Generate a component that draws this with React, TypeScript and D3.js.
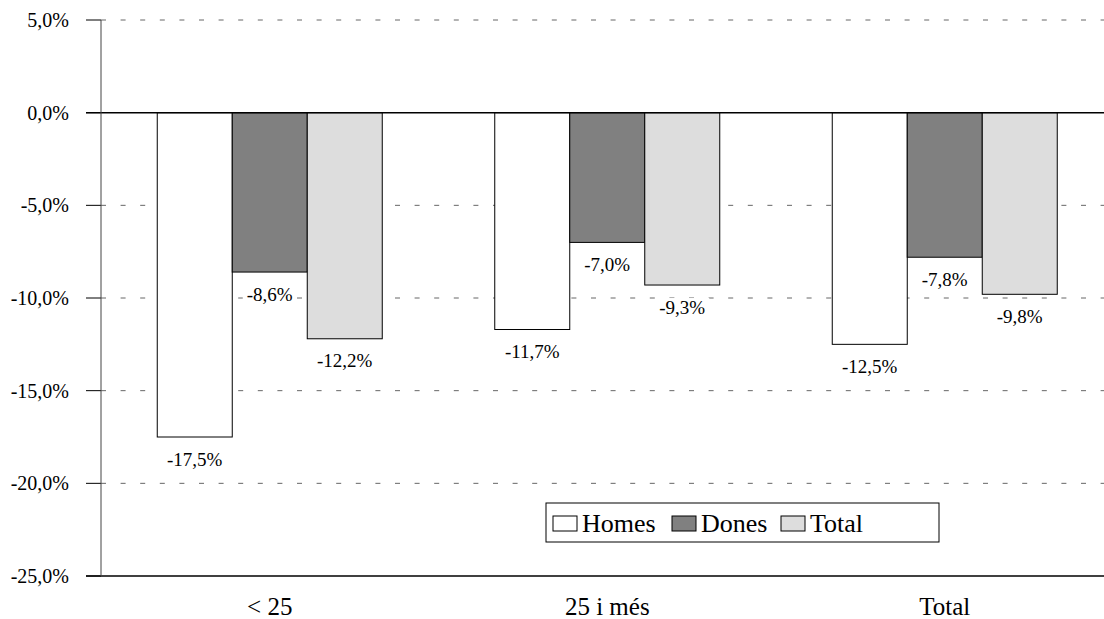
import React from "react";
import * as d3 from "d3";

const categories = ["< 25", "25 i més", "Total"];
const seriesNames = ["Homes", "Dones", "Total"];
const homes = [-17.5, -11.7, -12.5];
const dones = [-8.6, -7.0, -7.8];
const total = [-12.2, -9.3, -9.8];
const yTicks = [5, 0, -5, -10, -15, -20, -25];
const colors = ["#ffffff", "#808080", "#dddddd"];

const fmt = (v: number) => v.toFixed(1).replace(".", ",") + "%";
const FONT = "Liberation Serif, Times New Roman, serif";

export default function App() {
  const W = 1104, H = 619;
  const left = 101, right = 1113.5, top = 20, bottom = 576;
  const y = d3.scaleLinear().domain([5, -25]).range([top, bottom]);
  const x0 = d3.scaleBand().domain(categories).range([left, right]).paddingInner(1 / 3).paddingOuter(1 / 6);
  const x1 = d3.scaleBand().domain(seriesNames).range([0, x0.bandwidth()]);
  const series = [homes, dones, total];
  const ts = (size: number) => ({ fontFamily: FONT, fontSize: size + "px" });

  return (
    <svg width={W} height={H} style={{ position: "absolute", left: 0, top: 0, fontFamily: FONT }}>
      <rect x={0} y={0} width={W} height={H} fill="#fff" />
      {yTicks.map((t) => (
        <g key={t}>
          {t !== 0 && t !== -25 && (
            <line x1={left} x2={W} y1={y(t)} y2={y(t)} stroke="#666" strokeWidth={1} strokeDasharray="5,14.6" />
          )}
          <line x1={86} x2={left} y1={y(t)} y2={y(t)} stroke="#000" />
          <text x={69} y={y(t)} dy="0.35em" textAnchor="end" style={ts(20)}>{fmt(t)}</text>
        </g>
      ))}
      {categories.map((c, ci) =>
        series.map((s, si) => {
          const v = s[ci];
          const bx = (x0(c) as number) + (x1(seriesNames[si]) as number);
          const bw = x1.bandwidth();
          return (
            <rect key={c + si} x={bx} y={y(0)} width={bw} height={y(v) - y(0)} fill={colors[si]} stroke="#000" strokeWidth={1} />
          );
        })
      )}
      <line x1={86} x2={W} y1={y(0)} y2={y(0)} stroke="#000" strokeWidth={1.5} />
      <line x1={86} x2={W} y1={y(-25)} y2={y(-25)} stroke="#000" strokeWidth={1.5} />
      <line x1={left} x2={left} y1={y(5)} y2={y(-25)} stroke="#444" strokeWidth={1} />
      {categories.map((c, ci) =>
        series.map((s, si) => {
          const v = s[ci];
          const cx = (x0(c) as number) + (x1(seriesNames[si]) as number) + x1.bandwidth() / 2;
          const cy = y(v) + 22;
          return (
            <g key={"l" + c + si}>
              <rect x={cx - 27} y={cy - 9} width={54} height={18} fill="#fff" />
              <text x={cx} y={cy} dy="0.35em" textAnchor="middle" style={ts(19)}>{fmt(v)}</text>
            </g>
          );
        })
      )}
      {categories.map((c) => (
        <text key={c} x={(x0(c) as number) + x0.bandwidth() / 2} y={615} textAnchor="middle" style={ts(25)}>{c}</text>
      ))}
      <rect x={546} y={503} width={393} height={39} fill="#fff" stroke="#000" strokeWidth={1} />
      {seriesNames.map((n, i) => {
        const sx = [553, 672, 781][i];
        return (
          <g key={n}>
            <rect x={sx} y={516} width={24} height={15} fill={colors[i]} stroke="#000" strokeWidth={1} />
            <text x={sx + 29} y={532} style={ts(26)}>{n}</text>
          </g>
        );
      })}
    </svg>
  );
}
